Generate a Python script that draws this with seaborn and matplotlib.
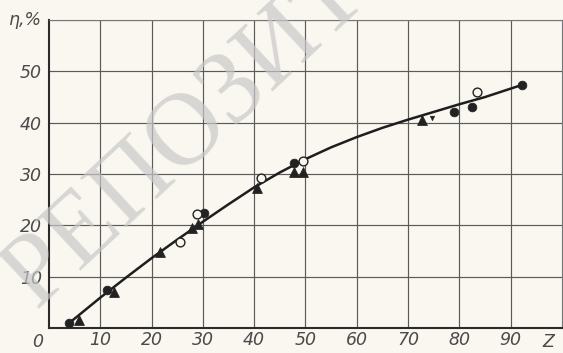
import matplotlib
matplotlib.use("Agg")
import matplotlib.pyplot as plt
import seaborn as sns
import pandas as pd

# Data
curve_z = [4, 10, 15, 20, 25, 30, 35, 40, 45, 50, 55, 60, 65, 70, 75, 80, 85, 92]
curve_eta = [1.0, 5.9, 9.8, 13.6, 17.2, 20.7, 24.1, 27.4, 30.3, 32.9, 35.2, 37.2,
             39.0, 40.6, 42.1, 43.6, 45.0, 47.3]

filled_z = [3.9, 11.3, 30.3, 47.7, 78.9, 82.4, 92.2]
filled_eta = [1.0, 7.4, 22.4, 32.1, 42.0, 43.0, 47.3]

open_z = [25.6, 28.8, 41.4, 49.6, 83.4]
open_eta = [16.7, 22.3, 29.2, 32.5, 45.9]

tri_z = [5.9, 12.7, 21.7, 27.8, 29.1, 40.6, 47.7, 49.6, 72.8]
tri_eta = [1.5, 7.0, 14.8, 19.5, 20.2, 27.2, 30.3, 30.3, 40.5]

small_tri_z = [74.6]
small_tri_eta = [41.0]

x_ticks = [10, 20, 30, 40, 50, 60, 70, 80, 90]
y_ticks = [10, 20, 30, 40, 50]

BG = "#f9f7ef"
INK = "#2b2b2b"
LABEL = "#4a4a4a"

sns.set_style("white")
plt.rcParams["font.family"] = ["DejaVu Sans"]

fig = plt.figure(figsize=(5.63, 3.53), dpi=100, facecolor=BG)
ax = fig.add_axes([0.087, 0.071, 0.911, 0.872])
ax.set_facecolor(BG)

ax.set_xlim(0, 100)
ax.set_ylim(0, 60)

# grid
for v in range(10, 100, 10):
    ax.axvline(v, color="#5a5a5a", lw=0.85, zorder=1)
for v in range(10, 70, 10):
    ax.axhline(v, color="#5a5a5a", lw=0.85, zorder=1)

for s in ["top", "right"]:
    ax.spines[s].set_visible(True)
    ax.spines[s].set_color("#777777")
    ax.spines[s].set_linewidth(0.8)
for s in ["left", "bottom"]:
    ax.spines[s].set_color(INK)
    ax.spines[s].set_linewidth(1.5)

curve = pd.DataFrame({"Z": curve_z, "eta": curve_eta})
sns.lineplot(data=curve, x="Z", y="eta", ax=ax, color="#1e1e1e", lw=1.8, zorder=3)

sns.scatterplot(x=filled_z, y=filled_eta, ax=ax, marker="o", s=40,
                color="#222222", edgecolor="#222222", zorder=4)
sns.scatterplot(x=open_z, y=open_eta, ax=ax, marker="o", s=40,
                facecolor=BG, edgecolor="#222222", linewidth=1.0, zorder=4)
sns.scatterplot(x=tri_z, y=tri_eta, ax=ax, marker="^", s=50,
                color="#222222", edgecolor="#222222", zorder=4)
sns.scatterplot(x=small_tri_z, y=small_tri_eta, ax=ax, marker="v", s=12,
                color="#222222", edgecolor="#222222", zorder=4)

ax.set_xlabel("")
ax.set_ylabel("")
ax.set_xticks(x_ticks)
ax.set_xticklabels([str(t) for t in x_ticks])
ax.set_yticks(y_ticks)
ax.set_yticklabels([str(t) for t in y_ticks])
ax.tick_params(axis="x", length=0, labelsize=12.5, labelcolor=LABEL, pad=2)
ax.tick_params(axis="y", length=0, labelsize=12.5, labelcolor=LABEL, pad=5)
for lab in ax.get_xticklabels() + ax.get_yticklabels():
    lab.set_fontstyle("italic")

ax.text(-1.2, -1.0, "0", ha="right", va="top", fontsize=12.5, style="italic",
        color=LABEL, clip_on=False)
ax.text(97.3, -1.0, "Z", ha="center", va="top", fontsize=12.5, style="italic",
        color=LABEL, clip_on=False)
ax.text(-1.5, 60, "η,%", ha="right", va="center", fontsize=12.5, style="italic",
        color=LABEL, clip_on=False)

# watermark
fig.text(0.065, 0.125, "РЕПОЗИТОРИЙ", rotation=43, rotation_mode="anchor",
         fontsize=74, family="Liberation Serif", color="#c8c8c8", alpha=0.7,
         ha="left", va="baseline", zorder=10)

fig.savefig("out.png", dpi=100, facecolor=BG)
